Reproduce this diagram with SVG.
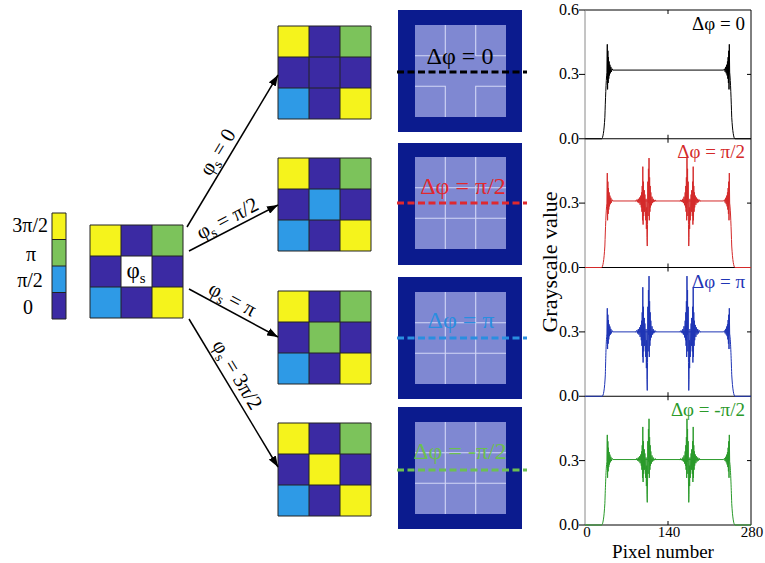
<svg xmlns="http://www.w3.org/2000/svg" width="765" height="563" viewBox="0 0 765 563" font-family="'Liberation Serif', 'DejaVu Serif', serif">
<style>
text, tspan { font-family: 'Liberation Serif', 'DejaVu Serif', serif; }
.gl{fill:none;stroke:#222;stroke-width:1}
.wl{fill:none;stroke:#d2d6f6;stroke-width:1.1}
.dash{stroke-width:3;stroke-dasharray:7 3.5;fill:none}
.cv{fill:none;stroke-width:1;vector-effect:non-scaling-stroke}
.ax{fill:none;stroke:#000;stroke-width:1}
.arr{stroke:#000;stroke-width:1.5;fill:none;marker-end:url(#ah)}
</style>
<defs>
<marker id="ah" markerUnits="userSpaceOnUse" markerWidth="11" markerHeight="8" refX="11" refY="4" orient="auto"><path d="M0,0 L11,4 L0,8 Z" fill="#000"/></marker>
<g id="cells">
<rect x="0" y="0" width="31" height="31" fill="#f5f31c"/>
<rect x="31" y="0" width="31" height="31" fill="#3b2aa3"/>
<rect x="62" y="0" width="31" height="31" fill="#7cc35b"/>
<rect x="0" y="31" width="31" height="31" fill="#3b2aa3"/>
<rect x="62" y="31" width="31" height="31" fill="#3b2aa3"/>
<rect x="0" y="62" width="31" height="31" fill="#2e9ae6"/>
<rect x="31" y="62" width="31" height="31" fill="#3b2aa3"/>
<rect x="62" y="62" width="31" height="31" fill="#f5f31c"/>
</g>
<path id="lines" class="gl" d="M0,0 H93 V93 H0 Z M31,0 V93 M62,0 V93 M0,31 H93 M0,62 H93"/>
<path id="cl" class="cv" d="M-20,0 L-17,0.6 L-16,-0.6 L-15,1 L-14,-1 L-13,1.6 L-12,-1.8 L-11,2.5 L-10,-3 L-9.5,4 L-9,-5 L-8.5,7 L-8,-9 L-7.5,16 L-7,-11 L-6.5,9 L-6,-7 L-5,5 L-4.5,-5 L-4,3 L-3,-5 L-2.5,-9 L-2,1 L-1.5,-13 L-1,-3 L-0.5,-17 L0,-21 L0.5,-11 L1,9 L1.5,-7 L2,15 L2.5,-1 L3,20 L3.5,-9 L4,11 L4.5,-5 L5,7 L5.5,-3 L6,4 L7,-2 L8,2 L9,-1 L10,1 L11,-0.5 L13,0.5 L15,0"/>
<path id="fullgrid" class="wl" d="M445.3,0 V92 M475.7,0 V92 M415,30.7 H506 M415,61.3 H506"/>
</defs>

<!-- legend -->
<g id="legend">
<rect x="52" y="213" width="14" height="26.5" fill="#f5f31c"/>
<rect x="52" y="239.5" width="14" height="26.5" fill="#7cc35b"/>
<rect x="52" y="266" width="14" height="26.5" fill="#2e9ae6"/>
<rect x="52" y="292.5" width="14" height="26.5" fill="#3b2aa3"/>
<path class="gl" d="M52,213 H66 V319 H52 Z M52,239.5 H66 M52,266 H66 M52,292.5 H66"/>
<text x="48" y="232" font-size="20" text-anchor="end">3π/2</text>
<text x="31" y="261" font-size="20" text-anchor="middle">π</text>
<text x="30" y="287" font-size="20" text-anchor="middle">π/2</text>
<text x="28" y="314" font-size="20" text-anchor="middle">0</text>
</g>

<!-- source metasurface -->
<g id="source" transform="translate(90,225)">
<use href="#cells"/>
<rect x="31" y="31" width="31" height="31" fill="#fff"/>
<use href="#lines"/>
<text x="46" y="53" font-size="23" text-anchor="middle">φ<tspan font-size="15" dy="5">s</tspan></text>
</g>

<!-- result grids -->
<g id="grid-0" transform="translate(278,26)"><use href="#cells"/><rect x="31" y="31" width="31" height="31" fill="#3b2aa3"/><use href="#lines"/></g>
<g id="grid-pi2" transform="translate(278,158)"><use href="#cells"/><rect x="31" y="31" width="31" height="31" fill="#2e9ae6"/><use href="#lines"/></g>
<g id="grid-pi" transform="translate(278,291)"><use href="#cells"/><rect x="31" y="31" width="31" height="31" fill="#7cc35b"/><use href="#lines"/></g>
<g id="grid-3pi2" transform="translate(278,423)"><use href="#cells"/><rect x="31" y="31" width="31" height="31" fill="#f5f31c"/><use href="#lines"/></g>

<!-- connectors -->
<g id="connectors">
<line class="arr" x1="187" y1="227" x2="278" y2="75"/>
<line class="arr" x1="189" y1="251" x2="278" y2="205"/>
<line class="arr" x1="189" y1="289" x2="278" y2="337"/>
<line class="arr" x1="189" y1="319" x2="278" y2="467"/>
<g transform="translate(228.4,158.6) rotate(-58.8)"><text x="0" y="-6" font-size="21" text-anchor="middle">φ<tspan font-size="14" dy="4">s</tspan><tspan dy="-4"> = 0</tspan></text></g>
<g transform="translate(232.8,228.9) rotate(-27.8)"><text x="0" y="-5" font-size="21" text-anchor="middle">φ<tspan font-size="14" dy="4">s</tspan><tspan dy="-4"> = π/2</tspan></text></g>
<g transform="translate(226.9,309.4) rotate(28.3)"><text x="0" y="-5" font-size="21" text-anchor="middle">φ<tspan font-size="14" dy="4">s</tspan><tspan dy="-4"> = π</tspan></text></g>
<g transform="translate(226.4,381.2) rotate(59)"><text x="0" y="-6" font-size="21" text-anchor="middle">φ<tspan font-size="14" dy="4">s</tspan><tspan dy="-4"> = 3π/2</tspan></text></g>
</g>

<!-- simulated images -->
<g id="image-0">
<rect x="398" y="10" width="124" height="122" fill="#0b1b8e"/>
<rect x="415" y="25" width="91" height="92" fill="#7f88d2"/>
<path class="wl" d="M445.3,25 V55.7 H415 M475.7,25 V55.7 H506 M445.3,117 V86.3 H415 M475.7,117 V86.3 H506"/>
<text x="460" y="64" font-size="24" text-anchor="middle" fill="#000">Δφ = 0</text>
<line class="dash" x1="397" y1="72" x2="527" y2="72" stroke="#000"/>
</g>
<g id="image-pi2">
<rect x="398" y="143" width="124" height="122" fill="#0b1b8e"/>
<rect x="415" y="157" width="91" height="92" fill="#7f88d2"/>
<use href="#fullgrid" transform="translate(0,157)"/>
<text x="463" y="194" font-size="24" text-anchor="middle" fill="#e0282e">Δφ = π/2</text>
<line class="dash" x1="397" y1="203" x2="527" y2="203" stroke="#e0282e"/>
</g>
<g id="image-pi">
<rect x="398" y="277" width="124" height="122" fill="#0b1b8e"/>
<rect x="415" y="292" width="91" height="92" fill="#7f88d2"/>
<use href="#fullgrid" transform="translate(0,292)"/>
<text x="461" y="328" font-size="24" text-anchor="middle" fill="#2a8ee0">Δφ = π</text>
<line class="dash" x1="397" y1="338" x2="527" y2="338" stroke="#2a8ee0"/>
</g>
<g id="image-m-pi2">
<rect x="398" y="407" width="124" height="122" fill="#0b1b8e"/>
<rect x="415" y="422" width="91" height="92" fill="#7f88d2"/>
<use href="#fullgrid" transform="translate(0,422)"/>
<text x="460" y="459" font-size="24" text-anchor="middle" fill="#6cbf52">Δφ = -π/2</text>
<line class="dash" x1="397" y1="470" x2="527" y2="470" stroke="#6cbf52"/>
</g>

<!-- plots -->
<g id="plots">
<g id="plot-frames">
<path class="ax" d="M585,10 H751 V525 H585 M585,138.75 H751 M585,267.5 H751 M585,396.25 H751"/>
<line x1="585" y1="10" x2="585" y2="525" stroke="#8a8a8a" stroke-width="1"/>
<path class="ax" d="M579,10 H585 M579,74.4 H585 M579,138.75 H585 M579,203.1 H585 M579,267.5 H585 M579,331.9 H585 M579,396.25 H585 M579,460.6 H585 M579,525 H585 M747,74.4 H751 M747,203.1 H751 M747,331.9 H751 M747,460.6 H751 M668,10 V14 M668,138.75 V134.75 M668,138.75 V142.75 M668,267.5 V263.5 M668,267.5 V271.5 M668,396.25 V392.25 M668,396.25 V400.25 M668,525 V521"/>
<g font-size="16" text-anchor="end">
<text x="579" y="15">0.6</text>
<text x="579" y="79.4">0.3</text>
<text x="579" y="143.75">0.0</text>
<text x="579" y="208.1">0.3</text>
<text x="579" y="272.5">0.0</text>
<text x="579" y="336.9">0.3</text>
<text x="579" y="401.25">0.0</text>
<text x="579" y="465.6">0.3</text>
<text x="579" y="530">0.0</text>
</g>
<g font-size="15" text-anchor="middle">
<text x="587" y="537">0</text>
<text x="669" y="537">140</text>
<text x="752" y="537">280</text>
</g>
<text x="663" y="558" font-size="19" text-anchor="middle">Pixel number</text>
<text transform="translate(557,262) rotate(-90)" font-size="22" text-anchor="middle">Grayscale value</text>
</g>
<g id="plot-0">
<g transform="translate(585,138.75) scale(0.592857,-2.145833)" stroke="#000">
<path class="cv" d="M0,0 H28 C30,0 32,3 33.5,10 C34.5,18 35.5,27 37,31 L37.6,44 L38.1,23 L38.6,41 L39.1,26 L39.6,38 L40.1,28 L40.7,36 L41.3,29.5 L42,34.5 L42.8,30.5 L43.6,33.5 L44.6,31.2 L45.8,32.6 L47,32 H234 L235.2,32.6 L236.4,31.2 L237.4,33.5 L238.2,30.5 L239,34.5 L239.7,29.5 L240.3,36 L240.9,28 L241.4,38 L241.9,26 L242.4,41 L242.9,23 L243.4,44 L244,31 C245.5,27 246.5,18 247.5,10 C249,3 251,0 253,0 H280"/>
</g>
<text x="745" y="30" font-size="19" text-anchor="end">Δφ = 0</text>
</g>
<g id="plot-pi2">
<g transform="translate(585,267.5) scale(0.592857,-2.145833)" stroke="#d42a2a">
<path class="cv" d="M0,0 H28 C30,0 32,3 33.5,10 C34.5,18 35.5,27 37,30 L37.6,44 L38.1,22 L38.6,40 L39.1,25 L39.6,37 L40.1,27 L40.7,35 L41.3,28.5 L42,33.5 L42.8,29.5 L43.6,32.5 L44.6,30.2 L45.8,31.6 L47,31 H234 L235.2,31.6 L236.4,30.2 L237.4,32.5 L238.2,29.5 L239,33.5 L239.7,28.5 L240.3,35 L240.9,27 L241.4,37 L241.9,25 L242.4,40 L242.9,22 L243.4,44 L244,30 C245.5,27 246.5,18 247.5,10 C249,3 251,0 253,0 H280"/>
<use href="#cl" transform="translate(105,31)"/>
<use href="#cl" transform="translate(175,31) scale(-1,1)"/>
</g>
<text x="745" y="158" font-size="19" text-anchor="end" fill="#d42a2a">Δφ = π/2</text>
</g>
<g id="plot-pi">
<g transform="translate(585,396.25) scale(0.592857,-2.145833)" stroke="#1f35b5">
<path class="cv" d="M0,0 H29 C31,0 33,3 34.3,10 C35,18 35.8,27 37,29 L37.6,41 L38.1,22 L38.6,38 L39.1,24.5 L39.6,35.5 L40.1,26.5 L40.7,33.5 L41.3,28 L42,32.5 L42.8,28.7 L43.6,31.4 L44.6,29.3 L45.8,30.6 L47,30 H234 L235.2,30.6 L236.4,29.3 L237.4,31.4 L238.2,28.7 L239,32.5 L239.7,28 L240.3,33.5 L240.9,26.5 L241.4,35.5 L241.9,24.5 L242.4,38 L242.9,22 L243.4,41 L244,29 C245.5,27 246.5,18 247.5,10 C249,3 251,0 253,0 H280"/>
<use href="#cl" transform="translate(105,30) scale(1,1.3)"/>
<use href="#cl" transform="translate(175,30) scale(-1,1.3)"/>
</g>
<text x="745" y="288" font-size="19" text-anchor="end" fill="#1f35b5">Δφ = π</text>
</g>
<g id="plot-m-pi2">
<g transform="translate(585,525) scale(0.592857,-2.145833)" stroke="#2a9a2a">
<path class="cv" d="M0,0 H28 C30,0 32,3 33.5,10 C34.5,18 35.5,27 37,29.5 L37.6,42 L38.1,22 L38.6,39 L39.1,25 L39.6,36 L40.1,27 L40.7,34 L41.3,28.2 L42,32.8 L42.8,29.2 L43.6,31.8 L44.6,29.8 L45.8,31.1 L47,30.5 H234 L235.2,31.1 L236.4,29.8 L237.4,31.8 L238.2,29.2 L239,32.8 L239.7,28.2 L240.3,34 L240.9,27 L241.4,36 L241.9,25 L242.4,39 L242.9,22 L243.4,42 L244,29.5 C245.5,27 246.5,18 247.5,10 C249,3 251,0 253,0 H280"/>
<use href="#cl" transform="translate(105,30.5) scale(1,0.95)"/>
<use href="#cl" transform="translate(175,30.5) scale(-1,0.95)"/>
</g>
<text x="745" y="416" font-size="19" text-anchor="end" fill="#2a9a2a">Δφ = -π/2</text>
</g>
</g>
</svg>
